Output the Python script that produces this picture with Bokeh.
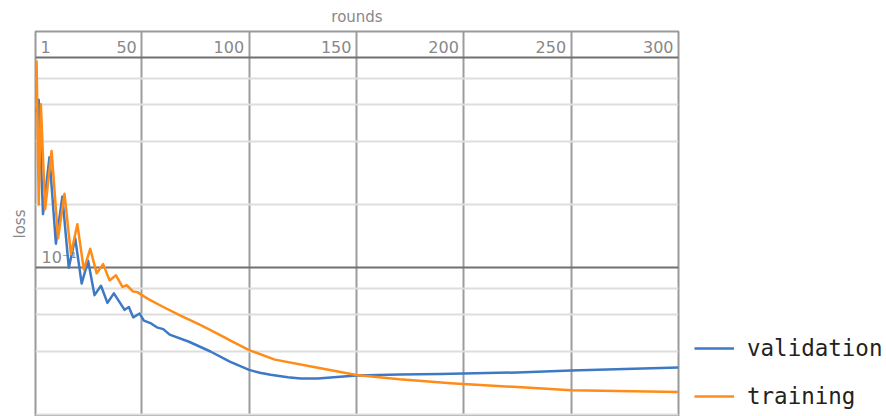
from bokeh.plotting import figure
from bokeh.models import Range1d, FixedTicker, Legend, LegendItem, Title
from bokeh.core.properties import value
from bokeh.embed import file_html
from bokeh.resources import INLINE

# ---- data ----
val_rounds = [1, 2, 4, 7, 10, 13, 16, 19, 22, 25, 28, 31, 34, 37, 42, 44, 46, 49, 51,
              54, 57, 60, 63, 72, 82, 91, 100, 105, 110, 118, 124, 132, 150, 170, 189, 225,
              250, 300]
val_loss = [0.55, 0.63, 0.18, 0.336, 0.13, 0.218, 0.10, 0.138, 0.084, 0.108, 0.074, 0.082,
            0.068, 0.0755, 0.063, 0.065, 0.058, 0.0605, 0.056, 0.0545, 0.052, 0.051, 0.048,
            0.0444, 0.0399, 0.0357, 0.0326, 0.0316, 0.0309, 0.0301, 0.0297, 0.0297, 0.0307,
            0.0310, 0.0312, 0.0317, 0.0324, 0.0335]

train_rounds = [1, 2, 3, 5, 8, 11, 14, 17, 20, 23, 26, 29, 32, 35, 38, 41, 43, 46, 48, 51,
                54, 60, 69, 77, 85, 92, 100, 112, 132, 150, 170, 194, 225, 250, 300]
train_loss = [0.97, 0.20, 0.60, 0.19, 0.36, 0.138, 0.225, 0.116, 0.161, 0.098, 0.123, 0.094,
              0.104, 0.087, 0.092, 0.081, 0.0825, 0.077, 0.0765, 0.073, 0.070, 0.065, 0.0585,
              0.0535, 0.0487, 0.0446, 0.0405, 0.0365, 0.0334, 0.0308, 0.0294, 0.0282, 0.0270,
              0.0261, 0.0256]

x_tick_values = [1, 50, 100, 150, 200, 250, 300]
x_tick_labels = ["1", "50", "100", "150", "200", "250", "300"]
y_major = [0.1, 1.0]
y_minor = [0.02, 0.04, 0.06, 0.08, 0.2, 0.4, 0.6, 0.8]
y_tick_label = "10\u207b\u00b9"

BLUE = "#3d79c4"
ORANGE = "#ff8c18"
GREY_TXT = "#888888"

p = figure(frame_width=643, frame_height=385, y_axis_type="log",
           x_range=Range1d(0.5, 300), y_range=Range1d(0.01956, 1.333),
           output_backend="svg", toolbar_location=None,
           min_border_left=35, min_border_right=208, min_border_top=31, min_border_bottom=0,
           background_fill_color="white", border_fill_color="white")

p.xaxis.visible = False
p.yaxis.visible = False

p.title.text = "rounds"
p.title.align = "center"
p.title.text_font = "DejaVu Sans"
p.title.text_font_size = "15px"
p.title.text_font_style = "normal"
p.title.text_color = GREY_TXT
p.title.standoff = 11

p.add_layout(Title(text="loss", align="center", text_font="DejaVu Sans", text_font_size="15px",
                   text_font_style="normal", text_color=GREY_TXT, standoff=14), "left")

p.outline_line_color = "#9a9a9a"
p.outline_line_width = 2

p.xgrid.ticker = FixedTicker(ticks=x_tick_values[1:])
p.xgrid.grid_line_color = "#9c9c9c"
p.xgrid.grid_line_width = 2

p.ygrid.ticker = FixedTicker(ticks=y_major, minor_ticks=y_minor)
p.ygrid.grid_line_color = "#707070"
p.ygrid.grid_line_width = 2
p.ygrid.minor_grid_line_color = "#dedede"
p.ygrid.minor_grid_line_width = 2

# top band tick labels
p.text(x=x_tick_values[1:], y=[y_major[1]] * (len(x_tick_values) - 1), text=x_tick_labels[1:],
       text_align="right", text_baseline="alphabetic", x_offset=-5, y_offset=-10.5,
       text_font=value("DejaVu Sans"), text_font_size="16px", text_color=GREY_TXT)
p.text(x=[x_tick_values[0]], y=[y_major[1]], text=[x_tick_labels[0]],
       text_align="left", text_baseline="alphabetic", x_offset=4, y_offset=-10.5,
       text_font=value("DejaVu Sans"), text_font_size="16px", text_color=GREY_TXT)
p.text(x=[x_tick_values[0]], y=[y_major[0]], text=[y_tick_label],
       text_align="left", text_baseline="alphabetic", x_offset=5, y_offset=-10,
       text_font=value("DejaVu Sans"), text_font_size="16px", text_color=GREY_TXT)

r_val = p.line(val_rounds, val_loss, line_color=BLUE, line_width=2.5, line_join="round")
r_train = p.line(train_rounds, train_loss, line_color=ORANGE, line_width=2.5, line_join="round")

legend = Legend(items=[LegendItem(label="validation", renderers=[r_val]),
                       LegendItem(label="training", renderers=[r_train])],
                location=(16, 7), orientation="vertical",
                glyph_width=40, glyph_height=26, label_height=26, label_standoff=13,
                spacing=22, padding=0, margin=0, border_line_color=None,
                background_fill_alpha=0,
                label_text_font="DejaVu Sans Mono", label_text_font_size="22.5px",
                label_text_color="#222222")
p.add_layout(legend, "right")

open("out.html", "w").write(file_html(p, INLINE))
